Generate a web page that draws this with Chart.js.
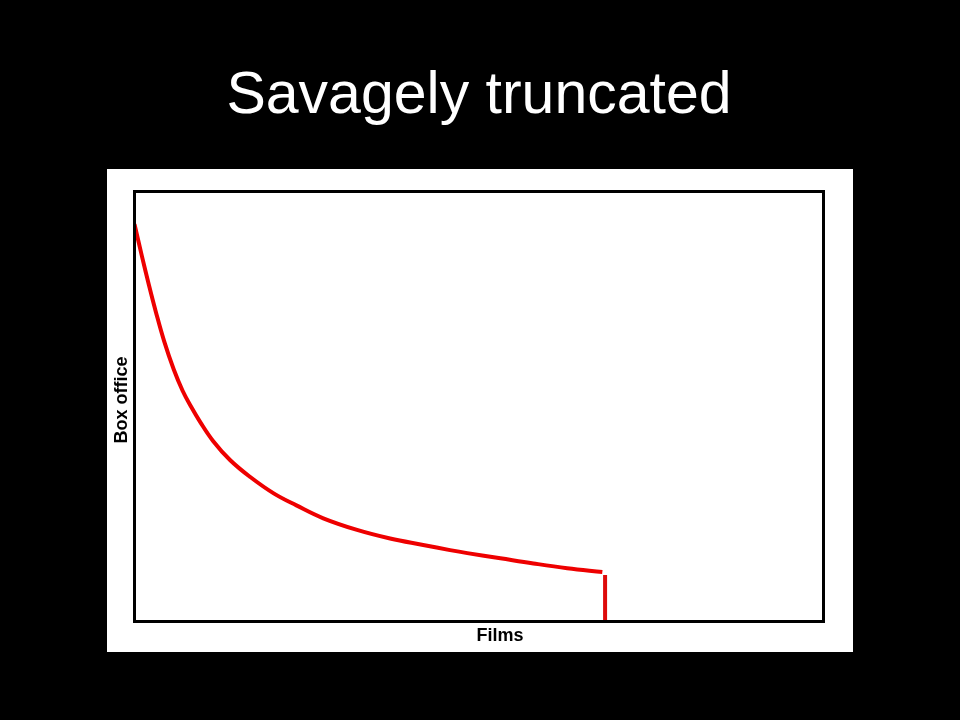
<!DOCTYPE html>
<html>
<head>
<meta charset="utf-8">
<title>Savagely truncated</title>
<script src="https://cdn.jsdelivr.net/npm/chart.js@4/dist/chart.umd.min.js"></script>
<style>
  html, body { margin: 0; padding: 0; background: #000; }
  #wrap { width: 960px; height: 720px; }
</style>
</head>
<body>
<div id="wrap"><canvas id="boxChart" width="960" height="720"></canvas></div>
<script>
// Curve values (x = films rank, y = box office, both 0-100)
const filmX = [0, 1.1, 2.1, 3.1, 4.3, 5.7, 7.0, 8.2, 9.5, 11.4, 13.9, 16.8, 20.2, 23.5, 27.4, 32.3, 37.1, 41.9, 45.8, 48.3, 53.1, 57.9, 62.8, 67.9];
const boxOffice = [92.4, 84.8, 78.2, 72.0, 65.2, 58.6, 53.6, 50.0, 46.5, 42.0, 37.5, 33.6, 29.8, 27.0, 24.0, 21.3, 19.3, 17.8, 16.6, 15.9, 14.7, 13.5, 12.4, 11.5];
// the cut-off drop at the end
const cutX = [68.3, 68.3];
const cutY = [10.8, 0];

const chartTitle = 'Savagely truncated';
const xLabel = 'Films';
const yLabel = 'Box office';

// Draws the white panel, the plot frame and axis labels
const panelPlugin = {
  id: 'panel',
  beforeDraw(chart) {
    const ctx = chart.ctx;
    ctx.save();
    ctx.fillStyle = '#000';
    ctx.fillRect(0, 0, chart.width, chart.height);
    ctx.fillStyle = '#fff';
    ctx.fillRect(107, 169, 746, 483);
    ctx.restore();
  },
  afterDatasetsDraw(chart) {
    const { ctx, chartArea: a } = chart;
    ctx.save();
    ctx.strokeStyle = '#000';
    ctx.lineWidth = 3;
    ctx.strokeRect(a.left, a.top, a.right - a.left, a.bottom - a.top);

    ctx.fillStyle = '#000';
    ctx.font = 'bold 18px "Liberation Sans", Arial, sans-serif';
    ctx.textAlign = 'center';
    ctx.textBaseline = 'middle';
    ctx.fillText(xLabel, 500, 636);

    ctx.translate(122, 400);
    ctx.rotate(-Math.PI / 2);
    ctx.fillText(yLabel, 0, 0);
    ctx.restore();
  }
};

new Chart(document.getElementById('boxChart'), {
  type: 'line',
  data: {
    datasets: [{
      data: filmX.map((x, i) => ({ x: x, y: boxOffice[i] })),
      borderColor: '#ee0000',
      borderWidth: 4,
      pointRadius: 0,
      fill: false,
      tension: 0.4
    }, {
      data: cutX.map((x, i) => ({ x: x, y: cutY[i] })),
      borderColor: '#dd0a0a',
      borderWidth: 4,
      pointRadius: 0,
      fill: false
    }]
  },
  options: {
    responsive: false,
    animation: false,
    layout: {
      padding: { top: 0, left: 134.5, right: 136.5, bottom: 98.5 }
    },
    scales: {
      x: { type: 'linear', min: 0, max: 100, display: false },
      y: { type: 'linear', min: 0, max: 100, display: false }
    },
    plugins: {
      legend: { display: false },
      tooltip: { enabled: false },
      title: {
        display: true,
        text: chartTitle,
        color: '#fff',
        font: { family: '"Liberation Sans", Arial, sans-serif', size: 59, weight: 'normal' },
        padding: { top: 61, bottom: 59.7 }
      }
    }
  },
  plugins: [panelPlugin]
});
</script>
</body>
</html>
